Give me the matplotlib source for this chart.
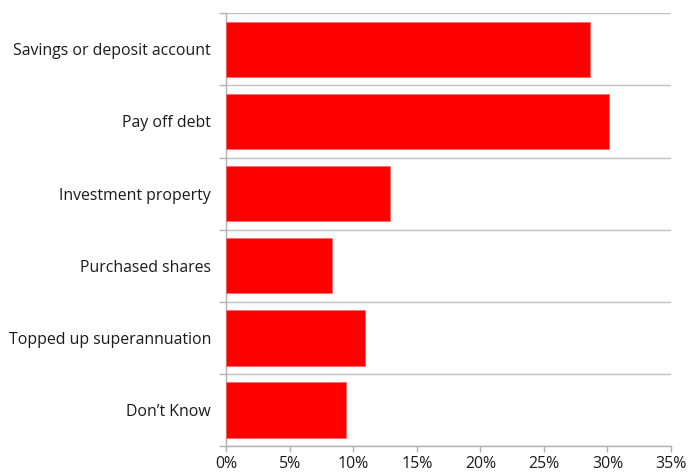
import matplotlib.pyplot as plt
from matplotlib.ticker import FixedLocator, FuncFormatter

categories = ['Savings or deposit account', 'Pay off debt', 'Investment property',
              'Purchased shares', 'Topped up superannuation', "Don\u2019t Know"]
values = [28.6, 30.1, 12.9, 8.3, 10.9, 9.4]
xticks = [0, 5, 10, 15, 20, 25, 30, 35]

plt.rcParams['font.family'] = ['Open Sans', 'DejaVu Sans']

fig = plt.figure(figsize=(6.88, 4.75), dpi=100)
ax = fig.add_axes([0.329, 0.061, 0.6463, 0.911])

pos = list(range(len(categories)))
ax.barh(pos, values, height=0.77, color='#ff0000', edgecolor='#ff6666', linewidth=0.5, zorder=3)

ax.set_ylim(len(categories) - 0.5, -0.5)
ax.set_xlim(0, 35)

# category labels, with the ticks placed on the band boundaries
ax.set_yticks(pos)
ax.set_yticklabels(categories, fontsize=11.4, color='#1a1a1a')
ax.tick_params(axis='y', which='major', length=0, pad=11)
ax.yaxis.set_minor_locator(FixedLocator([p + 0.5 for p in range(-1, len(categories))]))
ax.tick_params(axis='y', which='minor', length=5, color='#b0b0b0', width=1)
ax.yaxis.grid(True, which='minor', color='#c0c0c0', linewidth=1, zorder=0)

ax.set_xticks(xticks)
ax.xaxis.set_major_formatter(FuncFormatter(lambda v, _: f'{v:.0f}%'))
ax.tick_params(axis='x', length=4, color='#b0b0b0', width=1, labelsize=11.4,
               labelcolor='#1a1a1a', pad=3)

for side in ['top', 'right']:
    ax.spines[side].set_visible(False)
for side in ['left', 'bottom']:
    ax.spines[side].set_color('#b0b0b0')
    ax.spines[side].set_linewidth(1)

fig.savefig('out.png', dpi=100)
